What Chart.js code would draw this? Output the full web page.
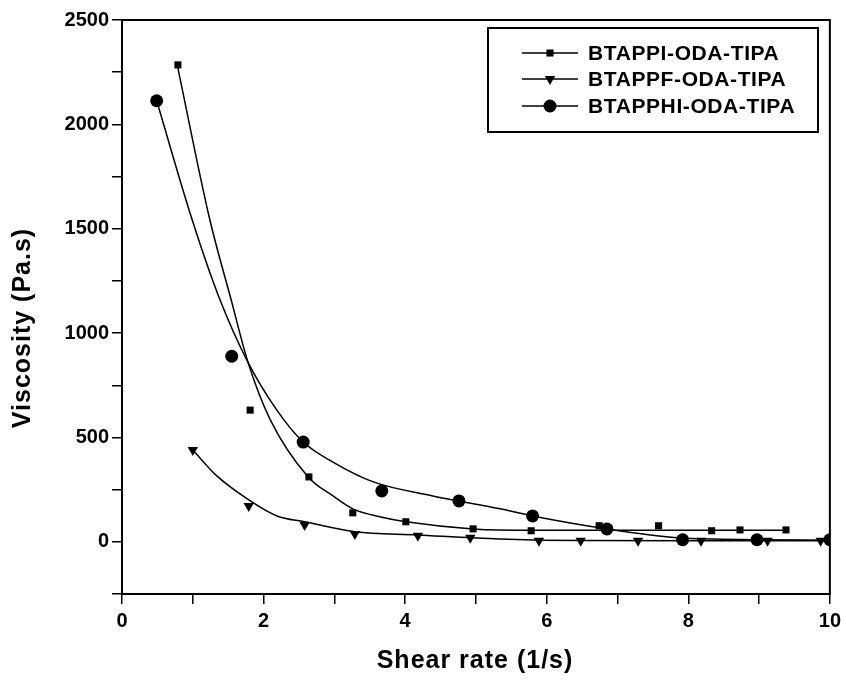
<!doctype html>
<html lang="en">
 <head>
  <meta charset="utf-8">
  <script src="https://cdn.jsdelivr.net/npm/chart.js@4.4.1/dist/chart.umd.min.js"></script>
  <style>
body { margin: 0; background: #fff; }
#wrap { width: 846px; height: 680px; }
  </style>
  <title>Viscosity vs shear rate</title>
 </head>
 <body>
  <div id="wrap"><canvas id="viscchart"></canvas></div>
  <script>
// measured points (markers)
var ppiShear = [0.79, 1.81, 2.64, 3.26, 4.01, 4.96, 5.78, 6.74, 7.58, 8.33, 8.73, 9.38];
var ppiVisc = [2285, 631, 311, 139, 96, 62, 53, 77, 77, 53, 57, 57];
var ppfShear = [1.0, 1.79, 2.58, 3.29, 4.18, 4.92, 5.89, 6.48, 7.29, 8.18, 9.12, 9.87];
var ppfVisc = [440, 172, 81, 38, 29, 19, 5, 5, 5, 5, 5, 5];
var pphiShear = [0.49, 1.55, 2.56, 3.67, 4.76, 5.80, 6.85, 7.92, 8.97, 10.0];
var pphiVisc = [2113, 889, 478, 244, 196, 124, 62, 10, 10, 10];

// fitted curves
var ppiFitX = [0.78, 1.24, 1.54, 1.78, 2.09, 2.63, 2.98, 3.26, 3.64, 4.01, 4.96, 5.8, 6.75, 7.6, 8.3, 9.38];
var ppiFitY = [2285, 1544, 1162, 860, 588, 311, 220, 158, 120, 96, 62, 55, 55, 55, 55, 55];
var ppfFitX = [1.0, 1.34, 1.77, 2.19, 2.58, 3.29, 4.17, 5.34, 6.5, 8.0, 10.0];
var ppfFitY = [440, 316, 206, 124, 96, 48, 33, 14, 6, 5, 5];
var pphiFitX = [0.49, 0.99, 1.37, 1.78, 2.19, 2.56, 2.98, 3.55, 4.39, 5.34, 5.8, 6.85, 7.88, 9.0, 10.0];
var pphiFitY = [2113, 1544, 1172, 860, 630, 478, 382, 287, 220, 158, 124, 62, 19, 10, 8];

var names = ['BTAPPI-ODA-TIPA', 'BTAPPF-ODA-TIPA', 'BTAPPHI-ODA-TIPA'];
var xTitle = 'Shear rate (1/s)';
var yTitle = 'Viscosity (Pa.s)';
var styles = [
  { pointStyle: 'rect', radius: 5, rotation: 0 },
  { pointStyle: 'triangle', radius: 6, rotation: 180 },
  { pointStyle: 'circle', radius: 6.5, rotation: 0 }
];

function pairs(xs, ys) {
  return xs.map(function (x, i) { return { x: x, y: ys[i] }; });
}

function markerSet(i, xs, ys) {
  return {
    type: 'scatter',
    label: names[i],
    data: pairs(xs, ys),
    showLine: false,
    pointStyle: styles[i].pointStyle,
    pointRadius: styles[i].radius,
    pointRotation: styles[i].rotation,
    pointBackgroundColor: '#000',
    pointBorderColor: '#000',
    pointBorderWidth: 0
  };
}

function fitSet(xs, ys) {
  return {
    type: 'line',
    data: pairs(xs, ys),
    borderColor: '#000',
    borderWidth: 1.5,
    pointRadius: 0,
    cubicInterpolationMode: 'monotone',
    fill: false
  };
}

var FONT = '"Liberation Sans", Arial, sans-serif';

// box around the plot area + axis titles (spaced out like the original)
const framePlugin = {
  id: 'frame',
  afterDraw(chart) {
    const a = chart.chartArea, c = chart.ctx;
    c.save();
    c.strokeStyle = '#000';
    c.lineWidth = 2;
    c.strokeRect(a.left, a.top, a.right - a.left, a.bottom - a.top);
    c.fillStyle = '#000';
    c.font = 'bold 25px ' + FONT;
    c.letterSpacing = '1px';
    c.textAlign = 'center';
    c.textBaseline = 'middle';
    c.fillText(xTitle, 475, 661);
    c.translate(23, 328);
    c.rotate(-Math.PI / 2);
    c.fillText(yTitle, 0, 0);
    c.restore();
  }
};

// legend drawn in the old Origin style
const legendPlugin = {
  id: 'boxLegend',
  afterDraw(chart) {
    const c = chart.ctx;
    c.save();
    c.strokeStyle = '#000';
    c.lineWidth = 2;
    c.strokeRect(488, 28, 330, 104);
    c.font = 'bold 21px ' + FONT;
    c.letterSpacing = '0.6px';
    c.textBaseline = 'middle';
    var rows = [53, 79, 106];
    for (var i = 0; i < names.length; i++) {
      var y = rows[i];
      c.lineWidth = 1.5;
      c.beginPath();
      c.moveTo(522, y);
      c.lineTo(578, y);
      c.stroke();
      c.fillStyle = '#000';
      Chart.helpers.drawPoint(c, {
        pointStyle: styles[i].pointStyle,
        radius: styles[i].radius,
        rotation: styles[i].rotation,
        borderWidth: 0
      }, 550, y);
      c.fillText(names[i], 588, y + 1);
    }
    c.restore();
  }
};

const chartConfig = {
  data: {
    datasets: [
      fitSet(ppiFitX, ppiFitY),
      fitSet(ppfFitX, ppfFitY),
      fitSet(pphiFitX, pphiFitY),
      markerSet(0, ppiShear, ppiVisc),
      markerSet(1, ppfShear, ppfVisc),
      markerSet(2, pphiShear, pphiVisc)
    ]
  },
  options: {
    animation: false,
    responsive: true,
    maintainAspectRatio: false,
    layout: { padding: { top: 20, right: 16, left: 6, bottom: 4 } },
    scales: {
      x: {
        type: 'linear',
        min: 0,
        max: 10,
        afterFit: function (scale) { scale.height = 82; },
        ticks: {
          stepSize: 1,
          autoSkip: false,
          maxRotation: 0,
          color: '#000',
          padding: 5,
          font: { family: FONT, size: 20, weight: 'bold' },
          callback: function (v) { return v % 2 === 0 ? v : ''; }
        },
        grid: { drawOnChartArea: false, tickLength: 10, color: '#000', lineWidth: 1.5 },
        border: { color: '#000', width: 2 },
        title: { display: false }
      },
      y: {
        type: 'linear',
        min: -250,
        max: 2500,
        afterFit: function (scale) { scale.width = 116; },
        ticks: {
          stepSize: 250,
          autoSkip: false,
          color: '#000',
          padding: 3,
          font: { family: FONT, size: 20, weight: 'bold' },
          callback: function (v) { return v % 500 === 0 ? v : ''; }
        },
        grid: { drawOnChartArea: false, tickLength: 10, color: '#000', lineWidth: 1.5 },
        border: { color: '#000', width: 2 },
        title: { display: false }
      }
    },
    plugins: {
      legend: { display: false },
      tooltip: { enabled: false }
    }
  },
  plugins: [framePlugin, legendPlugin]
};
const viscChart = new Chart(document.getElementById('viscchart'), chartConfig);
  </script>
 </body>
</html>
